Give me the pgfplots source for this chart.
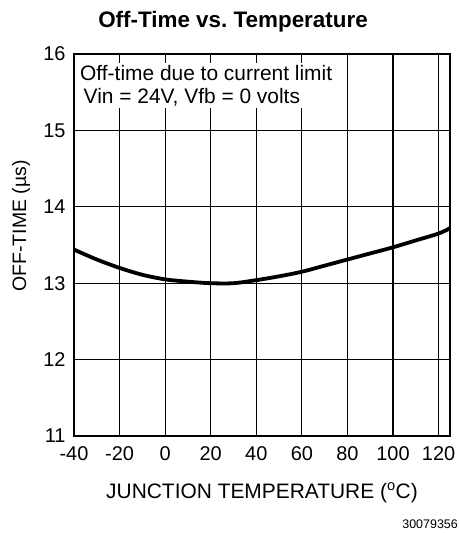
\documentclass[border=0pt]{standalone}
\usepackage{fontspec}
\setmainfont{Liberation Sans}
\usepackage{pgfplots}
\pgfplotsset{compat=1.18}
\frenchspacing

\begin{document}
\begin{tikzpicture}
\path[use as bounding box] (-74bp,-97bp) rectangle (385bp,436bp);
\begin{axis}[
    scale only axis,
    width=376bp, height=382bp,
    at={(0,0)}, anchor=south west,
    xmin=-40, xmax=125,
    ymin=11, ymax=16,
    xtick={-40,-20,...,120},
    ytick={11,12,...,16},
    grid=major,
    major grid style={black, line width=1.1bp},
    axis line style={black, line width=1.4bp},
    major tick length=0pt,
    /pgf/number format/assume math mode=true,
    tick label style={font=\fontsize{20}{24}\selectfont},
    xticklabel style={yshift=-7bp},
    yticklabel style={xshift=-5bp},
    clip=true,
]
% off-time vs junction temperature
\addplot[black, line width=3.8bp, smooth] coordinates {
    (-40,13.44) (-30,13.31) (-20,13.20) (-10,13.11) (0,13.05) (10,13.02)
    (20,13.00) (30,13.00) (40,13.04) (50,13.09) (60,13.15) (70,13.23)
    (80,13.31) (90,13.39) (100,13.47) (110,13.56) (120,13.65) (125,13.72)
};
\end{axis}

\node[anchor=base west, align=left, fill=white, inner sep=2bp,
      font=\fontsize{21}{23.5}\selectfont] at (4bp,332.5bp)
    {Off-time due to current limit\\ \,Vin = 24V, Vfb = 0 volts};

\node[anchor=base, font=\fontsize{22.5}{26}\selectfont\bfseries] at (159bp,408bp)
    {Off-Time vs. Temperature};
\node[anchor=base, font=\fontsize{21}{25}\selectfont] at (188bp,-62bp)
    {JUNCTION TEMPERATURE (\textsuperscript{o}C)};
\node[rotate=90, font=\fontsize{19.5}{23}\selectfont] at (-53bp,210bp)
    {OFF-TIME (µs)};
\node[anchor=base east, font=\fontsize{12.5}{15}\selectfont, inner sep=0pt] at (384bp,-92bp)
    {30079356};
\end{tikzpicture}
\end{document}
